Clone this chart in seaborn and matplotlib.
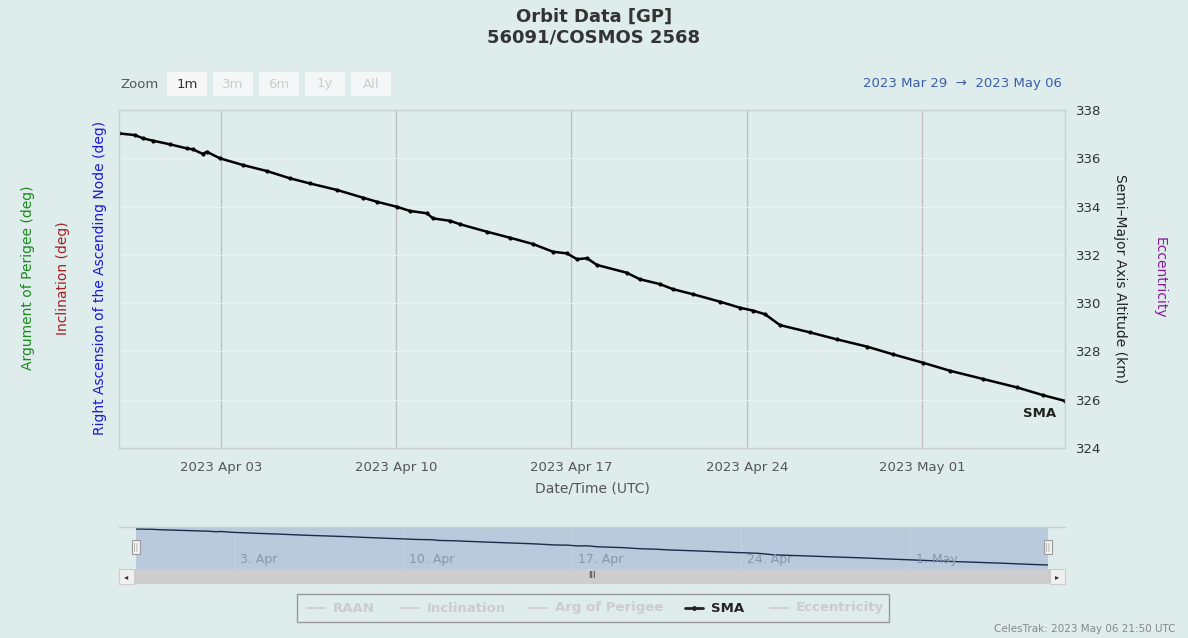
import matplotlib
matplotlib.use("Agg")
import matplotlib.pyplot as plt
import matplotlib.dates as mdates
from matplotlib.patches import Rectangle
import seaborn as sns
import pandas as pd

# ---------------- data ----------------
times = [
    "2023-03-29 22:20", "2023-03-30 13:40", "2023-03-30 21:10", "2023-03-31 06:40",
    "2023-03-31 23:00", "2023-04-01 15:20", "2023-04-01 21:10", "2023-04-02 06:40",
    "2023-04-02 10:30", "2023-04-02 23:00", "2023-04-03 21:10", "2023-04-04 20:10",
    "2023-04-05 18:10", "2023-04-06 13:10", "2023-04-07 15:10", "2023-04-08 16:00",
    "2023-04-09 05:30", "2023-04-10 00:40", "2023-04-10 13:10", "2023-04-11 05:30",
    "2023-04-11 11:20", "2023-04-12 03:40", "2023-04-12 13:00", "2023-04-13 14:50",
    "2023-04-14 13:00", "2023-04-15 11:00", "2023-04-16 06:10", "2023-04-16 19:40",
    "2023-04-17 05:20", "2023-04-17 14:50", "2023-04-18 00:30", "2023-04-19 05:00",
    "2023-04-19 17:30", "2023-04-20 12:40", "2023-04-21 01:10", "2023-04-21 20:20",
    "2023-04-22 22:20", "2023-04-23 17:30", "2023-04-24 06:10", "2023-04-24 17:30",
    "2023-04-25 07:50", "2023-04-26 12:30", "2023-04-27 14:20", "2023-04-28 19:10",
    "2023-04-29 20:10", "2023-05-01 01:00", "2023-05-02 02:40", "2023-05-03 10:20",
    "2023-05-04 19:00", "2023-05-05 19:50", "2023-05-06 17:00",
]
sma_km = [
    337.03, 336.96, 336.83, 336.73,
    336.58, 336.41, 336.37, 336.18,
    336.27, 336.00, 335.72, 335.47,
    335.17, 334.96, 334.69, 334.37,
    334.20, 333.99, 333.82, 333.72,
    333.51, 333.41, 333.27, 332.96,
    332.71, 332.45, 332.13, 332.06,
    331.82, 331.86, 331.58, 331.26,
    330.99, 330.79, 330.58, 330.37,
    330.06, 329.81, 329.69, 329.54,
    329.09, 328.79, 328.50, 328.20,
    327.88, 327.53, 327.20, 326.86,
    326.51, 326.19, 325.95,
]
main_ticks = ["2023-04-03", "2023-04-10", "2023-04-17", "2023-04-24", "2023-05-01"]
main_tick_labels = ["2023 Apr 03", "2023 Apr 10", "2023 Apr 17", "2023 Apr 24", "2023 May 01"]
nav_tick_labels = ["3. Apr", "10. Apr", "17. Apr", "24. Apr", "1. May"]
y_ticks = [324, 326, 328, 330, 332, 334, 336, 338]
legend_items = ["RAAN", "Inclination", "Arg of Perigee", "SMA", "Eccentricity"]
zoom_buttons = ["1m", "3m", "6m", "1y", "All"]

df = pd.DataFrame({"time": pd.to_datetime(times), "sma": sma_km})

# ---------------- styling ----------------
BG = "#deecec"
W, H = 1188, 638
sns.set_theme(style="white")
plt.rcParams["font.family"] = ["DejaVu Sans"]

fig = plt.figure(figsize=(W / 100, H / 100), dpi=100, facecolor=BG)

def fx(px):
    return px / W

def fy(py):
    return 1 - py / H

# ---------------- main axes ----------------
ax = fig.add_axes([fx(119), fy(448), fx(1065 - 119), fy(110) - fy(448)])
ax.set_facecolor(BG)
sns.lineplot(data=df, x="time", y="sma", ax=ax, color="black", linewidth=1.8,
             marker="o", markersize=3, markeredgewidth=0, legend=False)
ax.set_xlim(df["time"].iloc[0], df["time"].iloc[-1])
ax.set_ylim(324, 338)
ax.yaxis.tick_right()
ax.yaxis.set_label_position("right")
ax.set_yticks(y_ticks)
ax.set_yticklabels([str(v) for v in y_ticks], fontsize=9.5, color="#333333")
ax.set_xticks(pd.to_datetime(main_ticks))
ax.set_xticklabels(main_tick_labels, fontsize=9.5, color="#555555")
ax.tick_params(axis="x", length=0, pad=9)
ax.tick_params(axis="y", length=0, pad=8)
ax.grid(axis="x", color="#c0c0c0", linewidth=1)
ax.grid(axis="y", color="#e8f1f1", linewidth=0.8)
for s in ax.spines.values():
    s.set_color("#c8d0d0")
    s.set_linewidth(1)
ax.set_xlabel("Date/Time (UTC)", fontsize=10, color="#555555", labelpad=6)
ax.set_ylabel("Semi\u2013Major Axis Altitude (km)", fontsize=10, color="#222222",
              rotation=-90, labelpad=18)
ax.text(df["time"].iloc[-1], df["sma"].iloc[-1] - 0.25, "SMA  ", ha="right", va="top",
        fontsize=9.5, fontweight="bold", color="#222222")

# side axis titles
fig.text(fx(1160), fy(278), "Eccentricity", rotation=-90, color="#8a1a9a",
         fontsize=10, ha="center", va="center")
fig.text(fx(100), fy(278), "Right Ascension of the Ascending Node (deg)", rotation=90,
         color="#1a1ad0", fontsize=10, ha="center", va="center")
fig.text(fx(63), fy(278), "Inclination (deg)", rotation=90, color="#a02020",
         fontsize=10, ha="center", va="center")
fig.text(fx(28), fy(278), "Argument of Perigee (deg)", rotation=90, color="#1a8a1a",
         fontsize=10, ha="center", va="center")

# titles
fig.text(0.5, fy(17), "Orbit Data [GP]", ha="center", va="center", fontsize=13,
         fontweight="bold", color="#333333")
fig.text(0.5, fy(38), "56091/COSMOS 2568", ha="center", va="center", fontsize=13,
         fontweight="bold", color="#333333")

# range selector
fig.text(fx(120), fy(84), "Zoom", ha="left", va="center", fontsize=9.5, color="#555555")
bx = 167
for i, lab in enumerate(zoom_buttons):
    fig.patches.append(Rectangle((fx(bx + i * 46), fy(96)), fx(40), fy(72) - fy(96),
                                 transform=fig.transFigure, facecolor="#f4f7f7" if i else "#f7f7f7",
                                 edgecolor="none", zorder=0))
    fig.text(fx(bx + 20 + i * 46), fy(84), lab, ha="center", va="center", fontsize=9.5,
             color="#333333" if i == 0 else "#cccccc")
fig.text(fx(1062), fy(84), "2023 Mar 29  \u2192  2023 May 06", ha="right", va="center",
         fontsize=9.5, color="#3a5fa8")

# ---------------- navigator ----------------
fig.add_artist(plt.Line2D([fx(119), fx(1065)], [fy(527), fy(527)], color="#cccccc", lw=1))
nav = fig.add_axes([fx(136), fy(569), fx(1048 - 136), fy(527) - fy(569)])
nav.set_facecolor("#b8cadc")
sns.lineplot(data=df, x="time", y="sma", ax=nav, color="#1c2b4a", linewidth=1, legend=False)
nav.set_xlim(df["time"].iloc[0], df["time"].iloc[-1])
nav.set_ylim(324.72, 337.65)
nav.set_yticks([])
nav.set_xlabel("")
nav.set_ylabel("")
nav.set_xticks(pd.to_datetime(main_ticks))
nav.set_xticklabels([])
nav.tick_params(axis="x", length=0)
nav.grid(axis="x", color="#c5d3e0", linewidth=0.6)
for s in nav.spines.values():
    s.set_visible(False)
for t, lab in zip(pd.to_datetime(main_ticks), nav_tick_labels):
    nav.text(t + pd.Timedelta(hours=6), 0.22, lab, transform=nav.get_xaxis_transform(),
             ha="left", va="center", fontsize=9, color="#8a96a6")

# scrollbar
fig.patches.append(Rectangle((fx(119), fy(584)), fx(946), fy(569) - fy(584),
                             transform=fig.transFigure, facecolor="#cdcdcd", edgecolor="none"))
for xl in (119, 1050):
    fig.patches.append(Rectangle((fx(xl), fy(584)), fx(15), fy(569) - fy(584),
                                 transform=fig.transFigure, facecolor="#f0f0f0",
                                 edgecolor="#cccccc", lw=0.8))
fig.text(fx(126.5), fy(577), "\u25C2", ha="center", va="center", fontsize=6, color="#333333")
fig.text(fx(1057.5), fy(577), "\u25B8", ha="center", va="center", fontsize=6, color="#333333")
fig.text(fx(592), fy(576), "III", ha="center", va="center", fontsize=6, color="#333333")
# handles
for xh in (136, 1048):
    fig.patches.append(Rectangle((fx(xh - 4), fy(554)), fx(8), fy(540) - fy(554),
                                 transform=fig.transFigure, facecolor="#f2f2f2",
                                 edgecolor="#999999", lw=0.8, zorder=5))
    fig.text(fx(xh), fy(547), "||", ha="center", va="center", fontsize=5.5,
             color="#999999", zorder=6)

# ---------------- legend ----------------
fig.patches.append(Rectangle((fx(297), fy(622)), fx(592), fy(594) - fy(622),
                             transform=fig.transFigure, facecolor="none",
                             edgecolor="#999999", lw=1))
leg_x = [307, 401, 529, 685, 770]
for xl, lab in zip(leg_x, legend_items):
    active = lab == "SMA"
    col = "#222222" if active else "#cccccc"
    fig.add_artist(plt.Line2D([fx(xl), fx(xl + 18)], [fy(608), fy(608)], color=col,
                              lw=2 if active else 1.2))
    if active:
        fig.add_artist(plt.Line2D([fx(xl + 9)], [fy(608)], color=col, marker="o",
                                  markersize=3.5, markeredgewidth=0))
    fig.text(fx(xl + 26), fy(608), lab, ha="left", va="center", fontsize=9.5,
             fontweight="bold", color=col)

fig.text(fx(1176), fy(629), "CelesTrak: 2023 May 06 21:50 UTC", ha="right", va="center",
         fontsize=7.5, color="#888888")

fig.savefig("out.png", dpi=100, facecolor=BG)
